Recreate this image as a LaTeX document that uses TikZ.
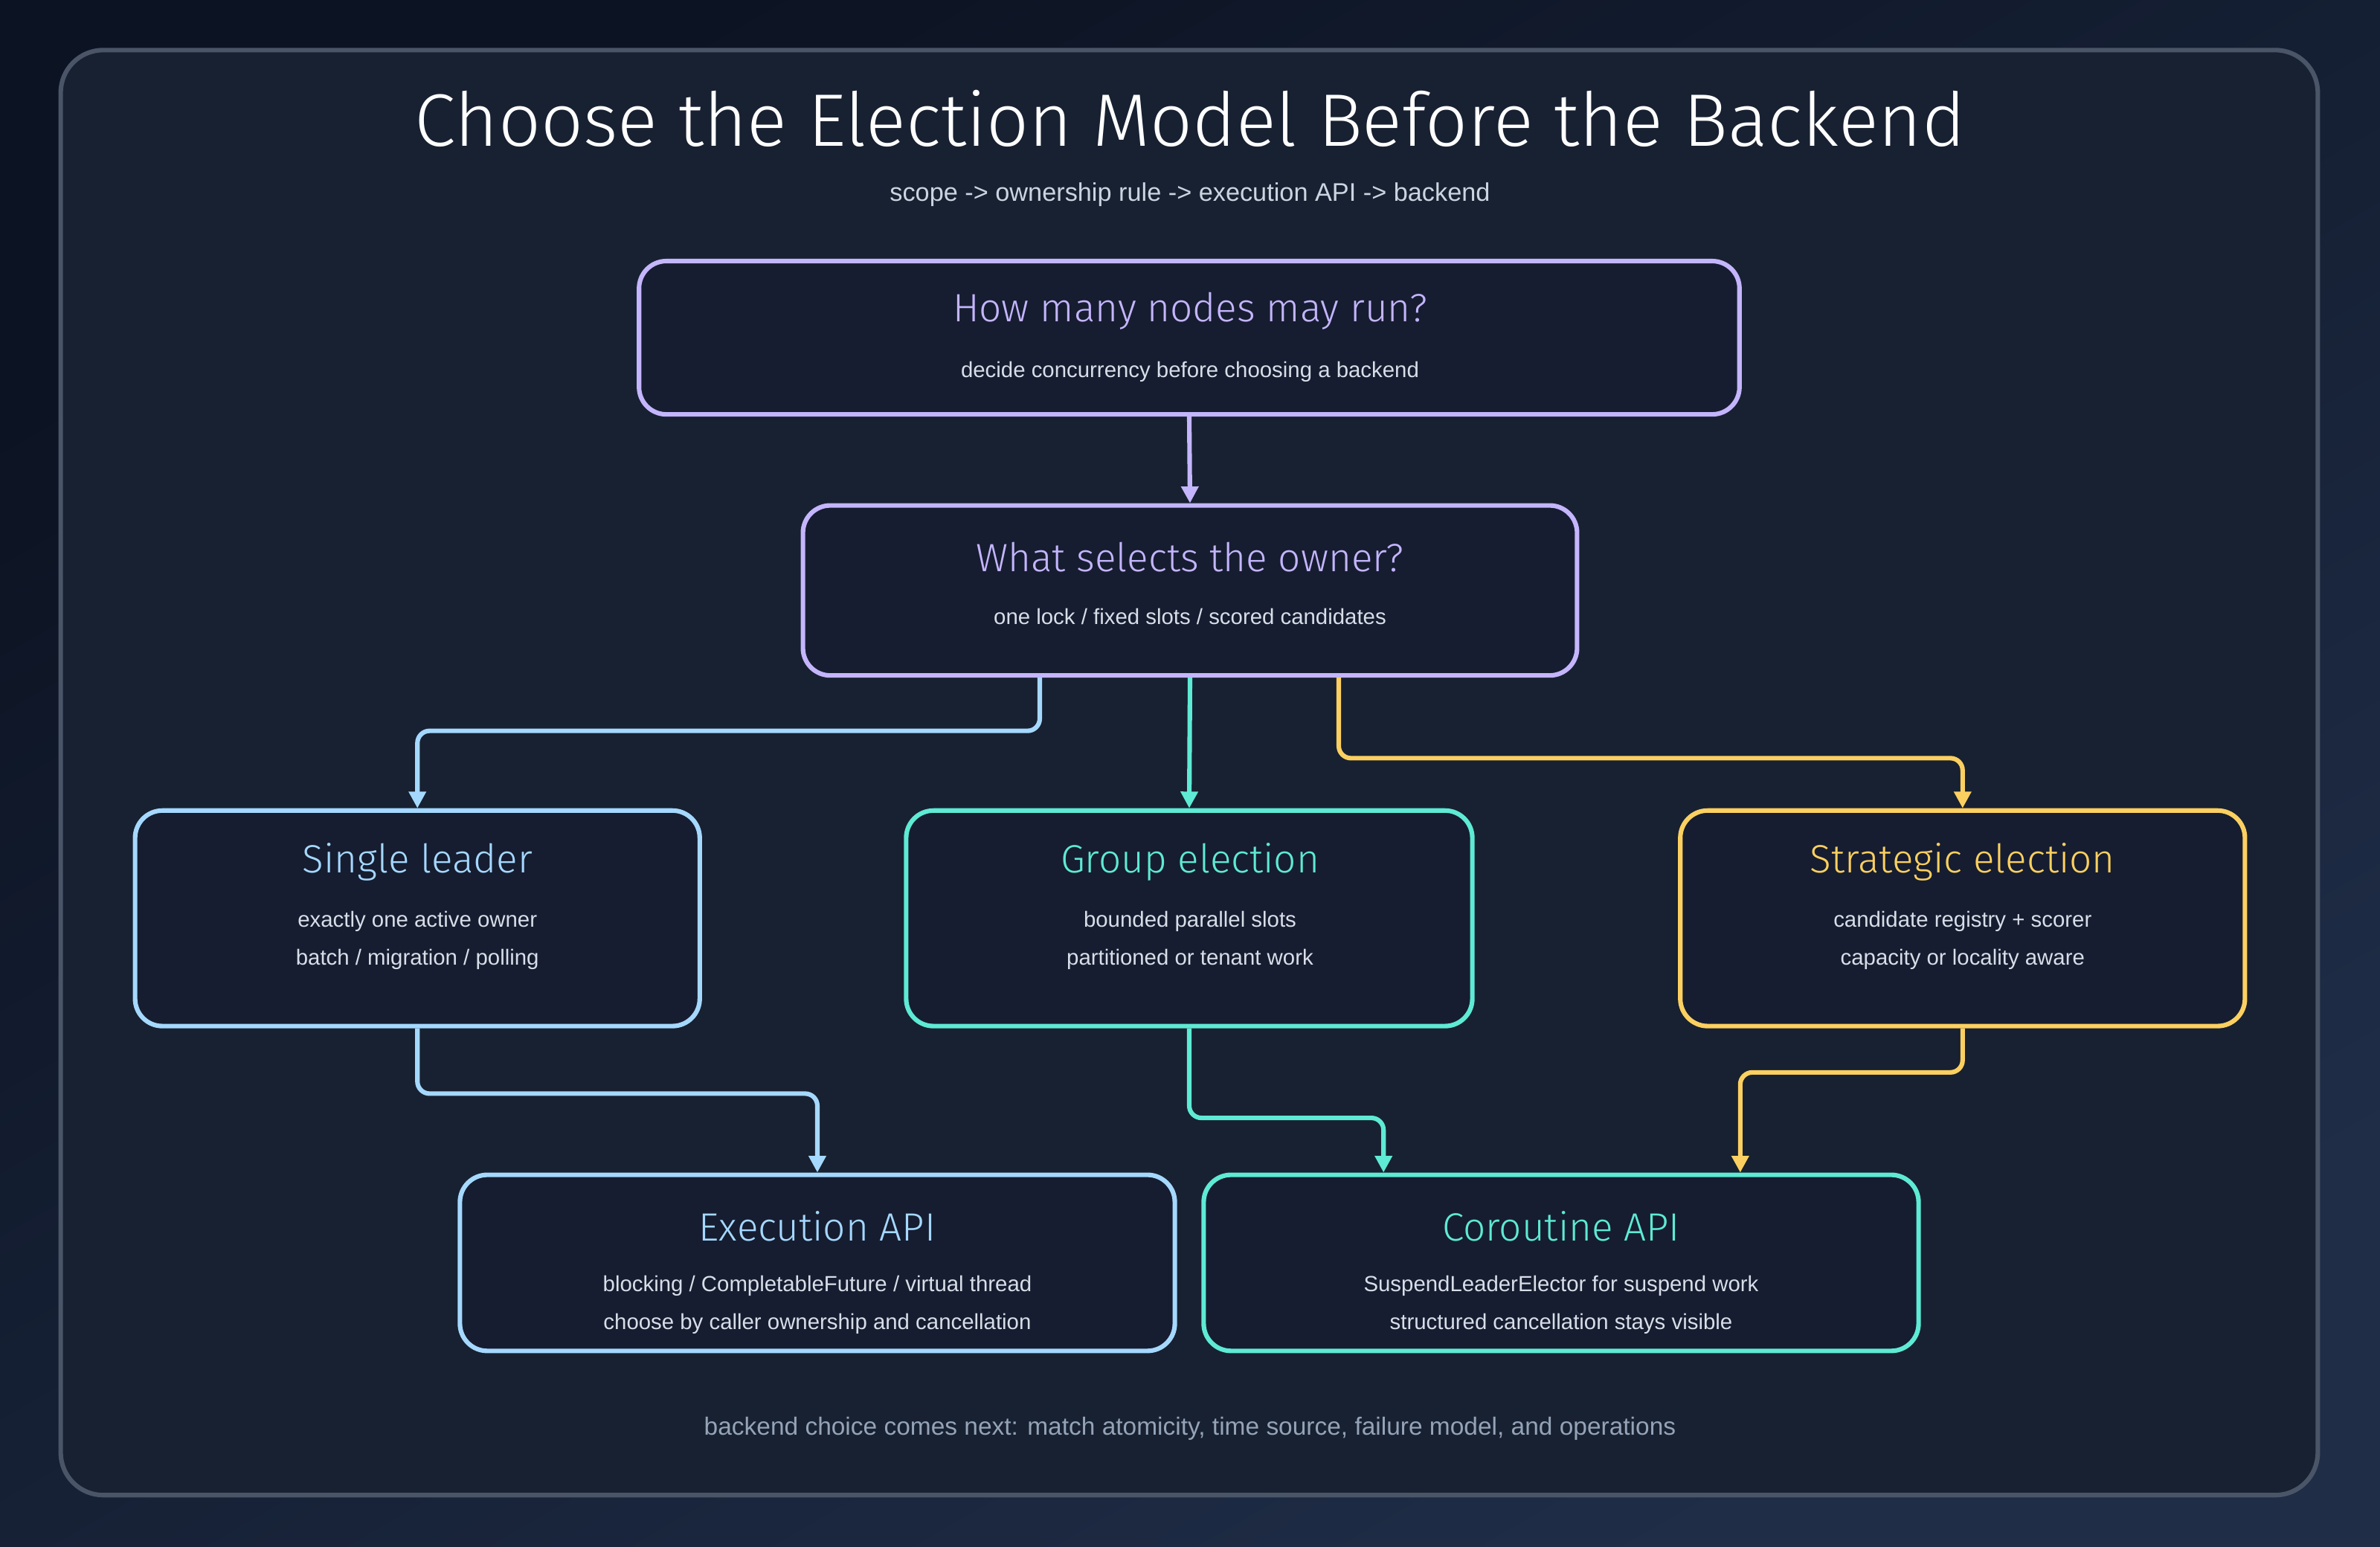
\documentclass[tikz,border=0pt]{standalone}
\usepackage{fontspec}
\setmainfont{Liberation Sans}
\newfontfamily\hand{Fira Sans Light}
\usetikzlibrary{arrows.meta}
\definecolor{bgA}{HTML}{0C1322}
\definecolor{bgB}{HTML}{1F2D47}
\definecolor{panel}{HTML}{182131}
\definecolor{frame}{HTML}{4A5568}
\definecolor{boxf}{HTML}{161D30}
\definecolor{cpur}{HTML}{C4B5FD}
\definecolor{cblu}{HTML}{A5D8FF}
\definecolor{cteal}{HTML}{5EEAD4}
\definecolor{cyel}{HTML}{FCD060}
\definecolor{subt}{HTML}{CBD5E1}
\definecolor{foot}{HTML}{94A3B8}
\definecolor{body}{HTML}{D8DEE8}
\tikzset{
 box/.style={draw=#1,line width=3pt,rounded corners=18pt,fill=boxf},
 ttl/.style={font=\hand\fontsize{26}{28}\selectfont,text=#1},
 txt/.style={font=\fontsize{14.4}{16}\selectfont,text=body},
 con/.style={draw=#1,line width=3pt,rounded corners=8pt,-{Triangle[length=11pt,width=11pt]}},
}
\begin{document}
\begin{tikzpicture}[x=1pt,y=-1pt]
\useasboundingbox (0,0) rectangle (1568,1019);
\shade[top color=bgA,bottom color=bgB,shading angle=30] (0,0) rectangle (1568,1019);
\draw[frame,line width=3pt,fill=panel,rounded corners=28pt] (40,33) rectangle (1527,985);
\node[font=\hand\fontsize{49}{52}\selectfont,text=white] (title) at (784,78) {Choose the Election Model Before the Backend};
\node[font=\fontsize{16.8}{18}\selectfont,text=subt] (sub) at (784,128) {scope -> ownership rule -> execution API -> backend};

\node[box=cpur,minimum width=725pt,minimum height=101pt] (b1) at (783.5,222.5) {};
\node[ttl=cpur] (t1) at (784,205) {How many nodes may run?};
\node[txt] (s1) at (784,245) {decide concurrency before choosing a backend};

\node[box=cpur,minimum width=510pt,minimum height=112pt] (b2) at (784,389) {};
\node[ttl=cpur] (t2) at (784,367) {What selects the owner?};
\node[txt] (s2) at (784,406) {one lock / fixed slots / scored candidates};

\node[box=cblu,minimum width=372pt,minimum height=142pt] (b3) at (275,605) {};
\node[ttl=cblu] (t3) at (275,568) {Single leader};
\node[txt] (s3a) at (275,607) {exactly one active owner};
\node[txt] (s3b) at (275,632) {batch / migration / polling};

\node[box=cteal,minimum width=373pt,minimum height=142pt] (b4) at (783.5,605) {};
\node[ttl=cteal] (t4) at (784,568) {Group election};
\node[txt] (s4a) at (784,607) {bounded parallel slots};
\node[txt] (s4b) at (784,632) {partitioned or tenant work};

\node[box=cyel,minimum width=372pt,minimum height=142pt] (b5) at (1293,605) {};
\node[ttl=cyel] (t5) at (1293,568) {Strategic election};
\node[txt] (s5a) at (1293,607) {candidate registry + scorer};
\node[txt] (s5b) at (1293,632) {capacity or locality aware};

\node[box=cblu,minimum width=471pt,minimum height=116pt] (b6) at (538.5,832) {};
\node[ttl=cblu] (t6) at (538.5,808) {Execution API};
\node[txt] (s6a) at (538.5,847) {blocking / CompletableFuture / virtual thread};
\node[txt] (s6b) at (538.5,872) {choose by caller ownership and cancellation};

\node[box=cteal,minimum width=471pt,minimum height=116pt] (b7) at (1028.5,832) {};
\node[ttl=cteal] (t7) at (1028.5,808) {Coroutine API};
\node[txt] (s7a) at (1028.5,847) {SuspendLeaderElector for suspend work};
\node[txt] (s7b) at (1028.5,872) {structured cancellation stays visible};

\node[font=\fontsize{16.4}{18}\selectfont,text=foot] (ft) at (784,941) {backend choice comes next: match atomicity, time source, failure model, and operations};

\draw[con=cpur] (b1.south) -- (b2.north);
\draw[con=cblu] ([xshift=-99pt]b2.south) -- ++(0,35) -| (b3.north);
\draw[con=cteal] (b2.south) -- (b4.north);
\draw[con=cyel] ([xshift=98pt]b2.south) -- ++(0,53) -| (b5.north);
\draw[con=cblu] (b3.south) -- ++(0,43) -| (b6.north);
\draw[con=cteal] (b4.south) -- ++(0,59) -| ([xshift=-117pt]b7.north);
\draw[con=cyel] (b5.south) -- ++(0,29) -| ([xshift=118pt]b7.north);
\end{tikzpicture}
\end{document}
